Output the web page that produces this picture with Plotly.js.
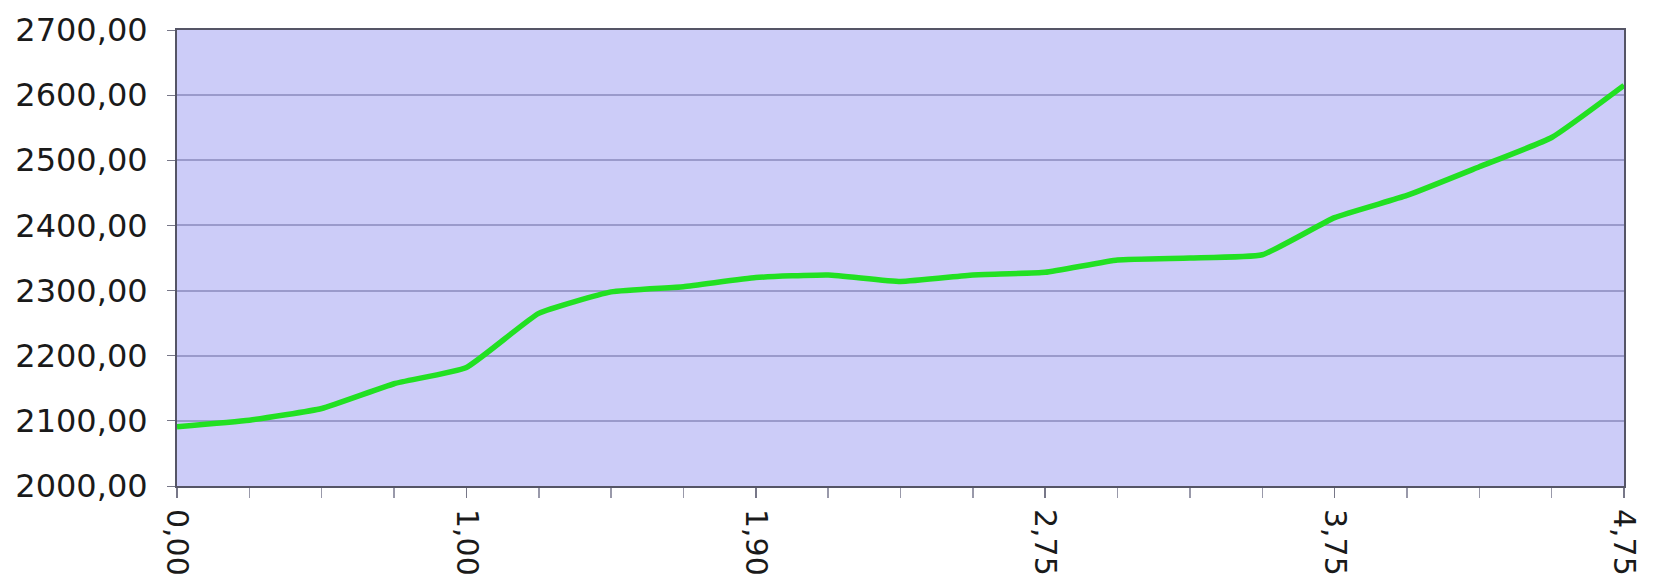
<!DOCTYPE html>
<html>
<head>
<meta charset="utf-8">
<script src="https://cdn.plot.ly/plotly-3.0.1.min.js"></script>
<style>html,body{margin:0;padding:0;background:#fff;}#chart{width:1656px;height:584px;}</style>
</head>
<body>
<div id="chart"></div>
<script>
// category labels (only every 4th is shown on the axis)
const categories = ["0,00","0,25","0,50","0,75","1,00","1,20","1,40","1,65","1,90","2,10","2,30","2,50","2,75","3,00","3,25","3,50","3,75","4,00","4,25","4,50","4,75"];
const values = [2091, 2101, 2119, 2157, 2182, 2265, 2298, 2306, 2320, 2324, 2314, 2324, 2328, 2347, 2350, 2355, 2412, 2446, 2490, 2535, 2615];
const labelEvery = 4;
const yTicks = [2000, 2100, 2200, 2300, 2400, 2500, 2600, 2700];

const xIdx = categories.map((_, i) => i);
const tickIdx = xIdx.filter(i => i % labelEvery === 0);

const trace = {
  x: xIdx,
  y: values,
  type: 'scatter',
  mode: 'lines',
  line: {color: '#22e022', width: 5.5, shape: 'spline', smoothing: 0.4},
  hoverinfo: 'skip'
};

const layout = {
  width: 1656, height: 584,
  margin: {l: 177, r: 32, t: 30, b: 98},
  paper_bgcolor: '#ffffff',
  plot_bgcolor: '#ccccf8',
  separators: ', ',
  showlegend: false,
  font: {family: 'DejaVu Sans, sans-serif', color: '#1a1a1a'},
  xaxis: {
    range: [0, categories.length - 1],
    tickmode: 'array',
    tickvals: tickIdx,
    ticktext: tickIdx.map(i => categories[i]),
    tickangle: 90,
    tickfont: {size: 30},
    ticks: 'outside', ticklen: 10, tickcolor: '#777788', tickwidth: 1.5,
    ticklabelstandoff: 5,
    minor: {dtick: 1, tick0: 0, ticks: 'outside', ticklen: 10, tickcolor: '#9999aa', showgrid: false},
    showgrid: false, zeroline: false,
    showline: true, linecolor: '#555566', linewidth: 2, mirror: true
  },
  yaxis: {
    range: [2000, 2700],
    tickmode: 'array',
    tickvals: yTicks,
    tickformat: '.2f',
    tickfont: {size: 32},
    ticks: 'outside', ticklen: 8, tickcolor: '#777788',
    ticklabelstandoff: 13,
    showgrid: true, gridcolor: '#9a9acb', gridwidth: 2,
    zeroline: false,
    showline: true, linecolor: '#555566', linewidth: 2, mirror: true
  }
};

Plotly.newPlot('chart', [trace], layout, {staticPlot: true, displayModeBar: false});
</script>
</body>
</html>
